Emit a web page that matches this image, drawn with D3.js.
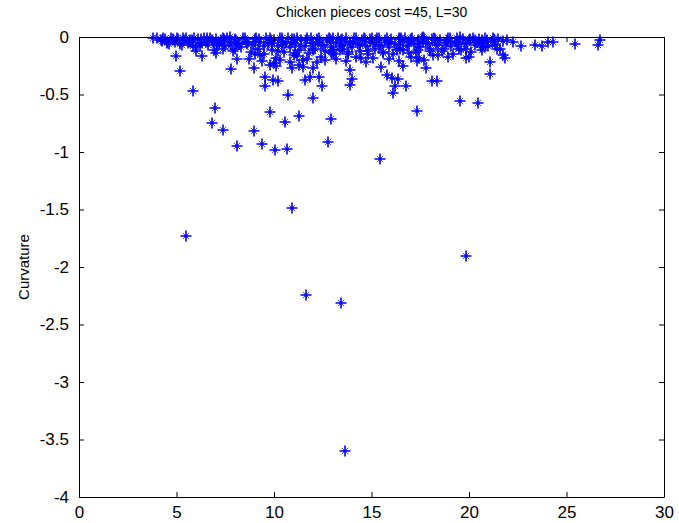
<!DOCTYPE html>
<html><head><meta charset="utf-8">
<script src="https://cdn.jsdelivr.net/npm/d3@7"></script>
<style>body{margin:0;background:#fff}svg{display:block}text{font-family:"Liberation Sans",Arial,sans-serif}</style>
</head><body><div id="chart"></div>
<script>
const title = "Chicken pieces cost =45, L=30";
const yLabel = "Curvature";
const xTicks = [0,5,10,15,20,25,30];
const yTicks = [0,-0.5,-1,-1.5,-2,-2.5,-3,-3.5,-4];
// outlying points
const xOut = [5.49,10.92,11.64,13.44,13.64,19.85,15.44,8.10,9.38,10.05,10.67,12.77,8.97,7.38,6.82,6.97,5.85,5.18,9.79,10.56,11.28,12.92,10.72,12.0,17.33,19.54,20.46,16.10,16.21,16.77,18.10,18.36,21.08,21.08,4.97,6.31,9.54,12.46,13.90,11.59,12.31,7.79,8.10,8.97,9.54,9.95,10.10,9.79,10.92,11.49,11.85,12.0,13.90,14.0,14.46,15.49,15.79,16.36,16.62,17.44,17.79,18.92,19.85,19.85,13.49,12.97,16.10,17.38,18.15,20.31,21.74,21.95,22.26,22.67,23.38,23.74,24.05,24.31,25.44,26.62,26.72,21.23,20.82,20.72,20.67,21.33,21.59,5.85,5.69,3.79,4.26,5.33,6.56,7.74,7.38,7.08,4.82,4.51,10.21,9.28,11.18,16.05,17.33,16.46,13.03,21.85,21.74,21.44,17.64,19.54];
const yOut = [-1.73,-1.49,-2.24,-2.31,-3.60,-1.90,-1.06,-0.95,-0.93,-0.98,-0.97,-0.91,-0.82,-0.81,-0.75,-0.62,-0.47,-0.30,-0.65,-0.74,-0.69,-0.71,-0.50,-0.53,-0.64,-0.56,-0.57,-0.49,-0.43,-0.43,-0.38,-0.38,-0.32,-0.22,-0.165,-0.165,-0.43,-0.43,-0.42,-0.37,-0.35,-0.28,-0.19,-0.27,-0.35,-0.37,-0.25,-0.24,-0.27,-0.26,-0.35,-0.27,-0.29,-0.365,-0.18,-0.26,-0.33,-0.365,-0.25,-0.18,-0.27,-0.17,-0.18,-0.10,-0.10,-0.14,-0.15,-0.11,-0.16,-0.03,-0.16,-0.03,-0.04,-0.08,-0.07,-0.08,-0.04,-0.04,-0.06,-0.07,-0.03,-0.01,-0.09,-0.05,-0.11,-0.07,-0.10,-0.08,-0.04,-0.005,-0.035,-0.005,-0.005,-0.002,-0.10,-0.07,-0.03,-0.05,-0.38,-0.16,-0.165,-0.36,-0.21,-0.10,-0.11,-0.18,-0.035,-0.10,-0.002,-0.002];
// dense band near zero
const xBand = [4.0,4.2,4.4,4.6,4.7,4.9,5.1,5.3,5.5,5.6,5.8,6.0,6.1,6.3,6.4,6.6,6.8,6.9,7.0,7.2,7.4,7.5,7.7,7.9,8.0,8.2,8.3,8.5,8.6,8.8,8.9,9.0,9.2,9.3,9.5,9.6,9.7,9.9,10.0,10.1,10.2,10.4,10.5,10.6,10.8,10.9,11.0,11.1,11.3,11.4,11.5,11.6,11.7,11.8,12.0,12.1,12.2,12.4,12.5,12.6,12.7,12.9,13.0,13.1,13.2,13.4,13.5,13.6,13.8,13.9,14.0,14.1,14.3,14.4,14.5,14.7,14.8,14.9,15.1,15.2,15.3,15.5,15.6,15.7,15.9,16.0,16.2,16.3,16.5,16.6,16.8,16.9,17.0,17.2,17.4,17.5,17.7,17.8,18.0,18.1,18.3,18.5,18.6,18.8,19.0,19.1,19.3,19.5,19.7,19.8,20.0,20.1,20.3,20.5,20.6,20.9,21.0,21.2,21.5,
 4.3,5.0,5.9,6.7,7.6,8.4,9.1,9.8,10.3,10.7,11.2,11.9,12.3,12.8,13.3,13.7,14.2,14.6,15.0,15.4,15.8,16.4,16.7,17.1,17.6,18.2,18.9,19.4,20.2,20.8,
 8.7,9.4,10.0,10.3,10.8,11.3,11.7,12.2,12.6,13.2,13.7,14.2,14.7,15.1,15.9,16.4,17.0,17.7,18.4,19.2,20.0,
 4.5,5.2,5.7,6.2,6.5,7.1,7.3,7.8,8.1,8.6,9.0,9.5,9.9,10.4,10.9,11.4,11.9,12.4,12.9,13.4,13.9,14.4,14.9,15.4,15.9,16.4,16.9,17.4,17.9,18.4,18.9,19.4,19.9,20.4,
 6.0,7.0,8.0,9.0,10.2,11.1,12.0,12.9,13.8,14.8,15.6,16.6,17.3,18.0,18.7,19.6,20.6,
 4.8,5.4,6.25,6.85,7.45,8.05,8.65,9.25,9.85,10.45,11.05,11.65,12.25,12.85,13.45,14.05,14.65,15.25,15.85,16.45,17.05,17.65,18.25,18.85,19.45,20.05,20.65,21.3];
const yBand = [-0.01,-0.03,-0.02,-0.06,-0.01,-0.04,-0.02,-0.07,-0.01,-0.05,-0.03,-0.09,-0.02,-0.05,-0.01,-0.07,-0.03,-0.11,-0.02,-0.05,-0.01,-0.08,-0.04,-0.12,-0.02,-0.06,-0.09,-0.01,-0.04,-0.13,-0.07,-0.02,-0.10,-0.04,-0.15,-0.01,-0.06,-0.11,-0.03,-0.18,-0.08,-0.01,-0.13,-0.05,-0.09,-0.02,-0.16,-0.06,-0.11,-0.03,-0.20,-0.08,-0.01,-0.14,-0.05,-0.10,-0.02,-0.17,-0.07,-0.12,-0.03,-0.09,-0.01,-0.15,-0.05,-0.11,-0.02,-0.07,-0.13,-0.04,-0.09,-0.01,-0.06,-0.12,-0.03,-0.08,-0.15,-0.02,-0.05,-0.10,-0.01,-0.07,-0.13,-0.03,-0.09,-0.02,-0.06,-0.11,-0.01,-0.04,-0.08,-0.14,-0.02,-0.06,-0.03,-0.09,-0.01,-0.05,-0.10,-0.02,-0.07,-0.03,-0.12,-0.05,-0.01,-0.08,-0.04,-0.10,-0.02,-0.06,-0.03,-0.13,-0.07,-0.02,-0.05,-0.03,-0.08,-0.04,-0.02,
 -0.005,-0.01,-0.005,-0.01,-0.005,-0.01,-0.005,-0.01,-0.005,-0.01,-0.005,-0.01,-0.005,-0.01,-0.005,-0.01,-0.005,-0.01,-0.005,-0.01,-0.005,-0.01,-0.005,-0.01,-0.005,-0.01,-0.005,-0.01,-0.005,-0.01,
 -0.19,-0.21,-0.23,-0.20,-0.22,-0.24,-0.19,-0.22,-0.20,-0.19,-0.21,-0.17,-0.22,-0.18,-0.19,-0.21,-0.17,-0.20,-0.16,-0.15,-0.17,
 -0.04,-0.06,-0.03,-0.07,-0.04,-0.06,-0.03,-0.07,-0.05,-0.06,-0.04,-0.08,-0.05,-0.07,-0.04,-0.08,-0.05,-0.07,-0.04,-0.08,-0.05,-0.07,-0.04,-0.08,-0.05,-0.07,-0.04,-0.06,-0.05,-0.07,-0.04,-0.06,-0.05,-0.04,
 -0.12,-0.14,-0.10,-0.15,-0.12,-0.14,-0.11,-0.13,-0.15,-0.12,-0.14,-0.11,-0.13,-0.12,-0.10,-0.11,-0.09,
 -0.02,-0.03,-0.02,-0.04,-0.02,-0.03,-0.04,-0.02,-0.03,-0.04,-0.02,-0.03,-0.04,-0.02,-0.03,-0.04,-0.02,-0.03,-0.04,-0.02,-0.03,-0.04,-0.02,-0.03,-0.04,-0.02,-0.03,-0.02];

const W = 679, H = 523;
const m = {l:79, r:664, t:37, b:497};
const svg = d3.select("#chart").append("svg").attr("width",W).attr("height",H);
const x = d3.scaleLinear().domain([0,30]).range([m.l,m.r]);
const y = d3.scaleLinear().domain([-4,0]).range([m.b,m.t]);

const pts = xBand.map((v,i)=>[v,yBand[i]]).concat(xOut.map((v,i)=>[v,yOut[i]]));
const g = svg.append("g").selectAll("g").data(pts).join("g")
  .attr("transform",d=>`translate(${Math.round(x(d[0]))},${Math.round(y(d[1]))})`);
g.append("path").attr("d","M-5.5,0H5.5M0,-5.5V5.5").attr("stroke","#0000ff").attr("stroke-width",1.6).attr("fill","none");
g.append("path").attr("d","M-3.2,-3.2L3.2,3.2M-3.2,3.2L3.2,-3.2").attr("stroke","#0000ff").attr("stroke-opacity",0.7).attr("stroke-width",1).attr("fill","none");
g.append("circle").attr("r",1.6).attr("fill","#0000ff");

const col = "#000";
const tl = 5;
const fmt = d=>String(d);
const ax = d3.axisBottom(x).tickValues(xTicks).tickFormat(fmt).tickSizeInner(-tl).tickSizeOuter(0).tickPadding(9);
const gx = svg.append("g").attr("transform",`translate(0,${m.b})`).call(ax);
const ay = d3.axisLeft(y).tickValues(yTicks).tickFormat(fmt).tickSizeInner(-tl).tickSizeOuter(0).tickPadding(10);
const gy = svg.append("g").attr("transform",`translate(${m.l},0)`).call(ay);
const axT = d3.axisTop(x).tickValues(xTicks).tickFormat("").tickSizeInner(-tl).tickSizeOuter(0);
const gt = svg.append("g").attr("transform",`translate(0,${m.t})`).call(axT);
const axR = d3.axisRight(y).tickValues(yTicks).tickFormat("").tickSizeInner(-tl).tickSizeOuter(0);
const gr = svg.append("g").attr("transform",`translate(${m.r},0)`).call(axR);
[gx,gy,gt,gr].forEach(g=>{g.select(".domain").attr("stroke",col);g.selectAll("line").attr("stroke",col);g.selectAll("text").attr("fill",col).style("font-size","17px").style("font-family",'"Liberation Sans",Arial,sans-serif');});

svg.append("text").attr("x",(m.l+m.r)/2).attr("y",17).attr("text-anchor","middle").style("font-size","14px").text(title);
svg.append("text").attr("transform",`translate(29,${(m.t+m.b)/2}) rotate(-90)`).attr("text-anchor","middle").style("font-size","15px").text(yLabel);
</script></body></html>
